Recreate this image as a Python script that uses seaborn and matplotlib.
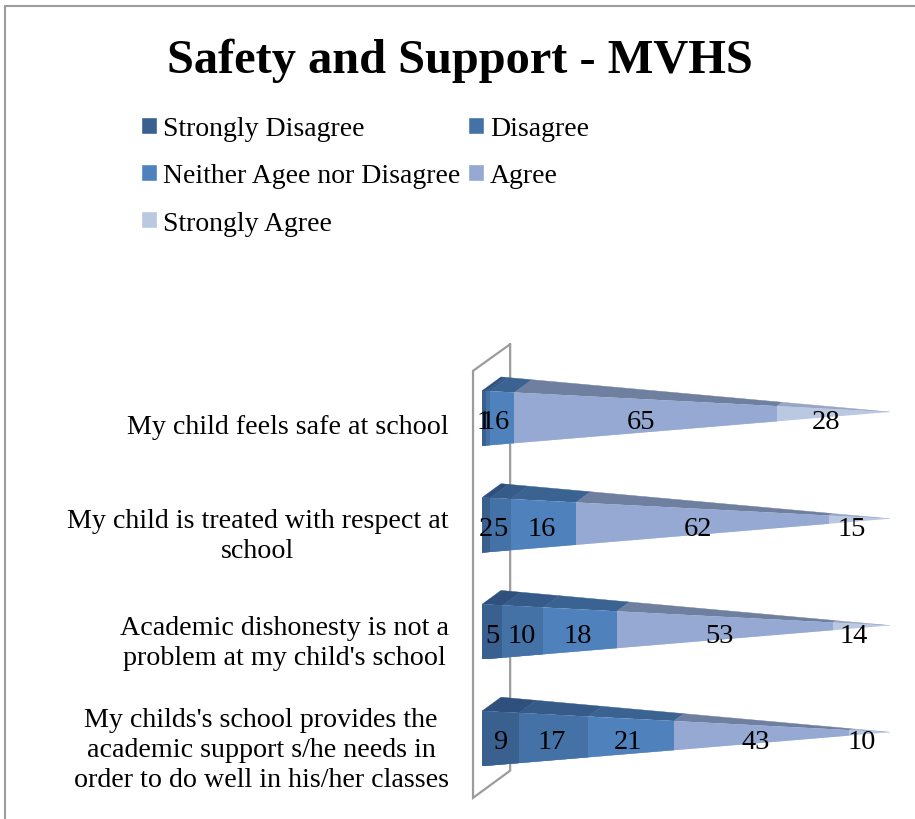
#!/usr/bin/env python3
# coding=utf-8

from matplotlib import pyplot as plt
from matplotlib.patches import Patch, Polygon, Rectangle
from matplotlib.transforms import ScaledTranslation
import numpy as np
import pandas as pd
import seaborn as sns

W, H = 915, 820

questions = ["My child feels safe at school",
             "My child is treated with respect at\nschool",
             "Academic dishonesty is not a\nproblem at my child's school",
             "My childs's school provides the\nacademic support s/he needs in\norder to do well in his/her classes"]
levels = ["Strongly Disagree", "Disagree", "Neither Agee nor Disagree", "Agree", "Strongly Agree"]

strongly_disagree = [1, 2, 5, 9]
disagree = [1, 5, 10, 17]
neither = [6, 16, 18, 21]
agree = [65, 62, 53, 43]
strongly_agree = [28, 15, 14, 10]

front_colors = ["#3a6090", "#4472a6", "#4f81bd", "#95a9d2", "#bbc8e1"]
top_colors = ["#2f4f7c", "#365b88", "#3a6391", "#6f7f9f", "#98a6c4"]

# shape of the pyramid, x in value units, y in category units
HALF_H = 0.258
APEX_DY = -0.06
DEPTH_DX = 4.66
DEPTH_DY = -0.13


def front_edge(value, center):
    """Top edge of the front face at given value"""
    t = value / 100
    return value, center - HALF_H + (HALF_H + APEX_DY) * t


def back_edge(value, center):
    """Back edge of the top face at given value"""
    t = value / 100
    x0, y0 = DEPTH_DX, center - HALF_H + DEPTH_DY
    return x0 + (100 - x0) * t, y0 + (center + APEX_DY - y0) * t


values = np.array([strongly_disagree, disagree, neither, agree, strongly_agree])
# 100% stacked, the first row adds up to 101 after rounding
cumulative = values.cumsum(axis=0) / values.sum(axis=0) * 100

df = pd.DataFrame({
    "question": np.tile(questions, len(levels)),
    "level": np.repeat(levels, len(questions)),
    "cum": cumulative.ravel(),
})

sns.set_theme(style="white")
plt.rcParams["font.family"] = ["Liberation Serif", "DejaVu Serif"]

fig = plt.figure(figsize=(W / 100, H / 100), dpi=100)
ax = fig.add_axes([482 / W, 1 - 793 / H, (890 - 482) / W, (793 - 366) / H])
ax.patch.set_alpha(0)

# outer chart border, right and bottom sides run off the picture
fig.add_artist(Rectangle((5 / W, -0.05), 1.1, 0.05 + 1 - 7 / H, transform=fig.transFigure,
                         fill=False, edgecolor="#9c9c9c", linewidth=1.5))

# cumulative bars, longest first so that shorter ones lie on top
sns.barplot(data=df, y="question", x="cum", hue="level", hue_order=levels[::-1],
            palette=dict(zip(levels, front_colors)), dodge=False, width=2 * HALF_H,
            saturation=1, errorbar=None, legend=False, ax=ax, zorder=3, linewidth=0)
ax.set_xlim(0, 100)
ax.set_ylim(3.5, -0.5)

# cut the bars to the front face of each pyramid
for patch in ax.patches:
    center = patch.get_y() + patch.get_height() / 2
    face = Polygon([(0, center - HALF_H), (0, center + HALF_H), (100, center + APEX_DY)],
                   transform=ax.transData)
    patch.set_clip_path(face)

# top faces
for row in range(len(questions)):
    edges = np.concatenate([[0], cumulative[:, row]])
    for k in range(len(levels)):
        corners = [front_edge(edges[k], row), back_edge(edges[k], row),
                   back_edge(edges[k + 1], row), front_edge(edges[k + 1], row)]
        ax.add_patch(Polygon(corners, facecolor=top_colors[k], edgecolor=top_colors[k],
                             linewidth=0.3, zorder=2, clip_on=False))

# back wall frame
wall_x = [6.9, -2.2, -2.2, 6.9, 6.9]
wall_y = [-0.5 - 0.195, -0.5 - 0.195 + 0.25, 3.5 + 0.055, 3.5 - 0.2, -0.5 - 0.195]
ax.plot(wall_x, wall_y, color="#9c9c9c", linewidth=1.6, clip_on=False, zorder=1,
        solid_joinstyle="miter")

# value labels
for row in range(len(questions)):
    for k in range(len(levels)):
        mid = cumulative[k, row] - values[k, row] / 2
        ax.text(mid * 0.98, row + 0.03, str(values[k, row]), ha="center", va="center",
                fontsize=20.5, color="black", zorder=5, clip_on=False)

ax.set_xticks([])
ax.set_xlabel("")
ax.set_ylabel("")
ax.tick_params(axis="y", length=0, pad=24, labelsize=20.2)
shift = ScaledTranslation(0, -5 / 100, fig.dpi_scale_trans)
for label in ax.get_yticklabels():
    label.set_transform(label.get_transform() + shift)
    label.set_linespacing(1.27)
    label.set_multialignment("center")
    label.set_color("black")
sns.despine(ax=ax, left=True, bottom=True)

fig.text(460 / W, 1 - 61 / H, "Safety and Support - MVHS", ha="center", va="center",
         fontsize=34.8, fontweight="bold", color="black")

# legend fills by column, the reference reads by row
order = [0, 2, 4, 1, 3]
handles = [Patch(facecolor=front_colors[i], label=levels[i]) for i in order]
fig.legend(handles=handles, ncol=2, loc="upper left", bbox_to_anchor=(119 / W, 1 - 95 / H),
           frameon=False, fontsize=20, handlelength=0.56, handleheight=0.56,
           handletextpad=0.22, labelspacing=0.8, columnspacing=0.3, borderpad=0.3,
           labelcolor="black")

fig.savefig("out.png", dpi=100)
